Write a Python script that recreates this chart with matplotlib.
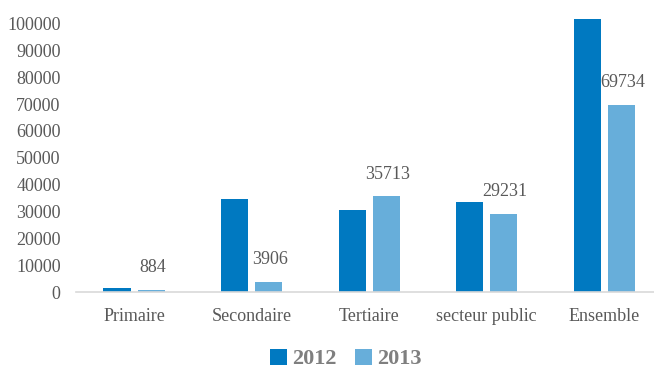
import matplotlib.pyplot as plt
import numpy as np

categories = ['Primaire', 'Secondaire', 'Tertiaire', 'secteur public', 'Ensemble']
values_2012 = [1700, 34700, 30600, 33600, 101600]
values_2013 = [884, 3906, 35713, 29231, 69734]
yticks = list(range(0, 100001, 10000))

plt.rcParams['font.family'] = ['Liberation Serif', 'DejaVu Serif']

fig = plt.figure(figsize=(6.54, 3.71), dpi=100)
ax = fig.add_axes([76 / 654, (371 - 292.3) / 371, 578 / 654, (292.3 - 19) / 371])

x = np.arange(len(categories))
w = 0.23
off = 0.145
ax.bar(x - off, values_2012, w, color='#0079C1', label='2012')
bars13 = ax.bar(x + off, values_2013, w, color='#67AEDA', label='2013')

# data labels for 2013 only, placed a bit above the bar top
for b, v in zip(bars13, values_2013):
    ax.annotate(str(v), (b.get_x() + b.get_width() / 2 + 0.01, v),
                xytext=(0, 16), textcoords='offset points', ha='center', va='center',
                fontsize=13, color='#595959')

ax.set_xlim(-0.494, 4.425)
ax.set_ylim(0, 101600)
ax.set_yticks(yticks)
ax.set_xticks(x)
ax.set_xticklabels(categories)
ax.tick_params(axis='y', length=0, labelsize=13, labelcolor='#595959', pad=11)
ax.tick_params(axis='x', length=0, labelsize=13, labelcolor='#595959', pad=11)

for s in ['top', 'right', 'left']:
    ax.spines[s].set_visible(False)
ax.spines['bottom'].set_color('#D9D9D9')
ax.spines['bottom'].set_linewidth(1.2)

leg = fig.legend(loc='center', bbox_to_anchor=(346 / 654, 1 - 359 / 371), ncol=2,
                 frameon=False, handlelength=0.75, handleheight=0.75, handletextpad=0.25,
                 columnspacing=0.8, borderpad=0.2, prop={'size': 16, 'weight': 'bold'})
for t in leg.get_texts():
    t.set_color('#7F7F7F')

fig.savefig('out.png', dpi=100)
